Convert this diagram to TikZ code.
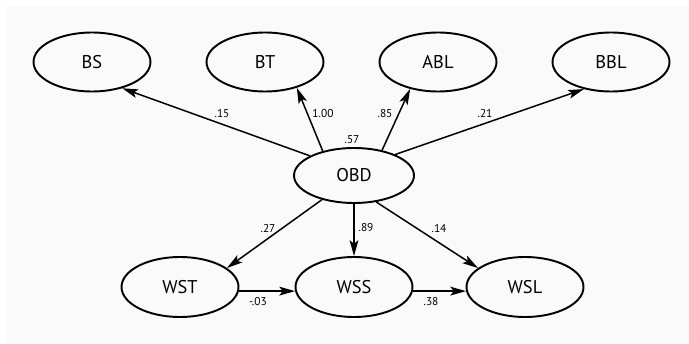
\documentclass[tikz,border=0pt]{standalone}
\usepackage{fontspec}
\setmainfont{PT Sans}
\usetikzlibrary{shapes,arrows.meta}

\begin{document}
\begin{tikzpicture}[x=0.02cm, y=-0.02cm, >={Stealth[length=9pt,width=5pt,inset=2pt]},
  latent/.style={ellipse, draw, line width=1.1pt, minimum width=2.34cm,
    minimum height=1.18cm, inner sep=0pt, font=\fontsize{10.5}{12}\selectfont},
  load/.style={->, line width=0.85pt},
  coef/.style={inner sep=0pt, font=\fontsize{6.5}{8}\selectfont}]

\useasboundingbox (0,0) rectangle (689,344);
\fill[white] (0,0) rectangle (689,344);
\fill[black!2] (7,6) rectangle (689,344);

\node[latent] at (92, 62) (BS) {BS};
\node[latent] at (265, 62) (BT) {BT};
\node[latent] at (438, 62) (ABL) {ABL};
\node[latent] at (611, 62) (BBL) {BBL};
\node[latent, minimum width=2.4cm, minimum height=1.1cm] at (354, 175.5) (OBD) {OBD};
\node[latent, minimum height=1.2cm] at (180, 287) (WST) {WST};
\node[latent, minimum height=1.2cm] at (354, 287) (WSS) {WSS};
\node[latent, minimum height=1.2cm] at (525, 287) (WSL) {WSL};

    \draw [load] (OBD.156) to (BS.-41);
    \draw [load] (OBD.142) to (BT.-39);
    \draw [load] (OBD.42) to (ABL.224);
    \draw [load] (OBD.27) to (BBL.-135);
    \draw [load] (OBD.-143) to (WST.22);
    \draw [load] (OBD.south) to (WSS.north);
    \draw [load] (OBD.-50) to (WSL.158);
    \draw [load] (WST.-4) to (WSS.184);
    \draw [load] (WSS.-4) to (WSL.184);

\node[coef] at (222, 114) (L_BS) {.15};
\node[coef] at (323, 114) (L_BT) {1.00};
\node[coef] at (385, 114) (L_ABL) {.85};
\node[coef] at (485, 114) (L_BBL) {.21};
\node[coef] at (352, 140) (L_OBD) {.57};
\node[coef] at (268, 229) (L_WST) {.27};
\node[coef] at (366, 228) (L_WSS) {.89};
\node[coef] at (439, 229) (L_WSL) {.14};
\node[coef] at (258, 302) (L_TS) {-.03};
\node[coef] at (431, 302) (L_SL) {.38};
\end{tikzpicture}
\end{document}
